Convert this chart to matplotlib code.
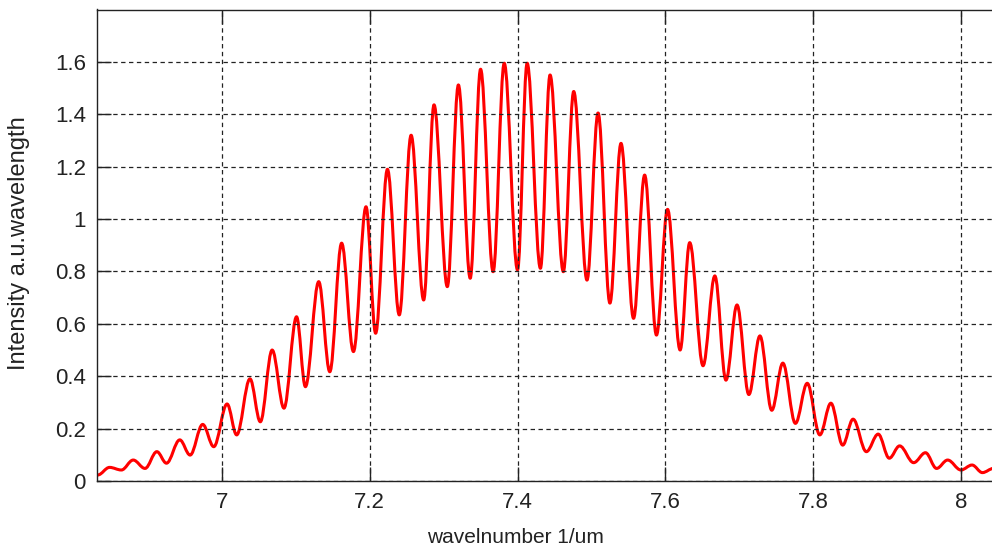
import numpy as np
import matplotlib
matplotlib.use("Agg")
import matplotlib.pyplot as plt
from matplotlib.path import Path
from matplotlib.patches import PathPatch

# fringe maxima (wavenumber, intensity)
peak_x = [6.848, 6.880, 6.912, 6.943, 6.974, 7.007, 7.038, 7.068, 7.101, 7.131,
          7.162, 7.195, 7.224, 7.256, 7.287, 7.320, 7.350, 7.382, 7.413, 7.444,
          7.476, 7.509, 7.540, 7.572, 7.603, 7.633, 7.667, 7.697, 7.728, 7.759,
          7.792, 7.824, 7.854, 7.888, 7.917, 7.952, 7.982, 8.015, 8.044]
peak_y = [0.052, 0.080, 0.112, 0.157, 0.216, 0.294, 0.390, 0.500, 0.627, 0.761,
          0.908, 1.047, 1.190, 1.320, 1.436, 1.512, 1.572, 1.595, 1.595, 1.550,
          1.487, 1.405, 1.289, 1.168, 1.037, 0.910, 0.783, 0.672, 0.554, 0.450,
          0.373, 0.297, 0.236, 0.179, 0.134, 0.108, 0.080, 0.061, 0.048]

# fringe minima
trough_x = [6.832, 6.864, 6.896, 6.925, 6.957, 6.989, 7.020, 7.052, 7.084, 7.113,
            7.146, 7.178, 7.208, 7.240, 7.273, 7.305, 7.336, 7.367, 7.400, 7.431,
            7.462, 7.494, 7.525, 7.557, 7.588, 7.620, 7.651, 7.682, 7.713, 7.744,
            7.776, 7.809, 7.840, 7.872, 7.903, 7.936, 7.967, 8.000, 8.029]
trough_y = [0.023, 0.042, 0.048, 0.068, 0.099, 0.131, 0.176, 0.226, 0.278, 0.360,
            0.417, 0.494, 0.564, 0.634, 0.691, 0.742, 0.774, 0.799, 0.806, 0.812,
            0.799, 0.767, 0.679, 0.621, 0.557, 0.500, 0.440, 0.385, 0.330, 0.270,
            0.220, 0.176, 0.137, 0.112, 0.087, 0.070, 0.048, 0.042, 0.032]

x_ticks = [7, 7.2, 7.4, 7.6, 7.8, 8]
x_labels = ['7', '7.2', '7.4', '7.6', '7.8', '8']
y_ticks = [0, 0.2, 0.4, 0.6, 0.8, 1, 1.2, 1.4, 1.6]
y_labels = ['0', '0.2', '0.4', '0.6', '0.8', '1', '1.2', '1.4', '1.6']

plt.rcParams['font.family'] = ['Liberation Sans', 'DejaVu Sans']

x = np.concatenate([peak_x, trough_x])
y = np.concatenate([peak_y, trough_y])
order = np.argsort(x)
x, y = x[order], y[order]

# smooth the fringe trace: cubic segments with flat tangents at each extremum
verts = [(x[0], y[0])]
codes = [Path.MOVETO]
for x0, y0, x1, y1 in zip(x[:-1], y[:-1], x[1:], y[1:]):
    dx = x1 - x0
    verts += [(x0 + 0.36 * dx, y0), (x1 - 0.36 * dx, y1), (x1, y1)]
    codes += [Path.CURVE4] * 3

fig = plt.figure(figsize=(9.92, 5.49), dpi=100)
ax = fig.add_axes([97 / 992, 68 / 549, 1 - 97 / 992, 471.5 / 549])

trace = PathPatch(Path(verts, codes), facecolor='none', edgecolor='red',
                  linewidth=2.2, joinstyle='round')
ax.add_patch(trace)

ax.set_xlim(6.831, 8.042)
ax.set_ylim(0, 1.8)
ax.set_xticks(x_ticks)
ax.set_xticklabels(x_labels)
ax.set_yticks(y_ticks)
ax.set_yticklabels(y_labels)

ax.grid(True, color='#222222', linestyle=(0, (3.5, 2.8)), linewidth=0.9)
ax.tick_params(direction='in', length=10, width=1, labelsize=16, colors='#222222',
               top=True, bottom=True, left=True, right=False, pad=8)
ax.spines['right'].set_visible(False)
for s in ['left', 'bottom', 'top']:
    ax.spines[s].set_color('#222222')
    ax.spines[s].set_linewidth(1.0)

ax.set_xlabel('wavelnumber 1/um', fontsize=15, color='#222222')
ax.xaxis.set_label_coords((515 - 97) / 895, -0.1)
ax.set_ylabel('Intensity a.u.wavelength', fontsize=17, color='#222222')
ax.yaxis.set_label_coords(-67 / 895, 0.505)

fig.savefig('out.png', dpi=100)
